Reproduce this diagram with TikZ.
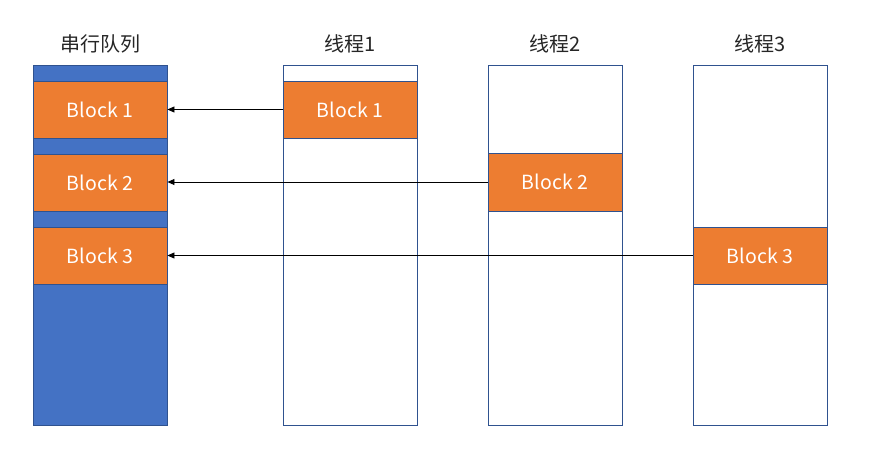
\documentclass[tikz,border=0pt]{standalone}
\usepackage{fontspec}
\setmainfont{Noto Sans CJK SC}
\usetikzlibrary{arrows.meta}
\definecolor{qblue}{HTML}{4472C4}
\definecolor{bord}{HTML}{2F528F}
\definecolor{borange}{HTML}{ED7D31}
\tikzset{
  col/.style={draw=bord, line width=0.9pt, minimum width=134pt, minimum height=360pt, inner sep=0pt},
  blk/.style={draw=bord, line width=0.9pt, fill=borange, minimum width=134pt, minimum height=57pt, inner sep=0pt, text=white, font=\fontsize{19.5}{22}\selectfont},
  ttl/.style={inner sep=0pt, text=black!85, font=\fontsize{20}{23}\selectfont},
  arr/.style={-{Triangle[length=7pt,width=6pt]}, line width=0.8pt, black}
}
\begin{document}
\begin{tikzpicture}[x=1pt,y=-1pt]
\useasboundingbox (0,0) rectangle (887,462);
\node[col, fill=qblue] (q) at (100,245) {};
\node[col, fill=white] (t1) at (350,245) {};
\node[col, fill=white] (t2) at (555,245) {};
\node[col, fill=white] (t3) at (760,245) {};
\node[ttl] (lq) at (100,44) {串行队列};
\node[ttl] (l1) at (350,44) {线程1};
\node[ttl] (l2) at (555,44) {线程2};
\node[ttl] (l3) at (760,44) {线程3};
\node[blk] (qb1) at (100,109.5) {Block 1};
\node[blk] (qb2) at (100,182.5) {Block 2};
\node[blk] (qb3) at (100,255.5) {Block 3};
\node[blk] (tb1) at (350,109.5) {Block 1};
\node[blk, minimum height=58pt] (tb2) at (555,182) {Block 2};
\node[blk] (tb3) at (760,255.5) {Block 3};
\draw[arr] (tb1.west) -- (tb1.west -| qb1.east);
\draw[arr] (tb2.west) -- (tb2.west -| qb2.east);
\draw[arr] (tb3.west) -- (tb3.west -| qb3.east);
\end{tikzpicture}
\end{document}
